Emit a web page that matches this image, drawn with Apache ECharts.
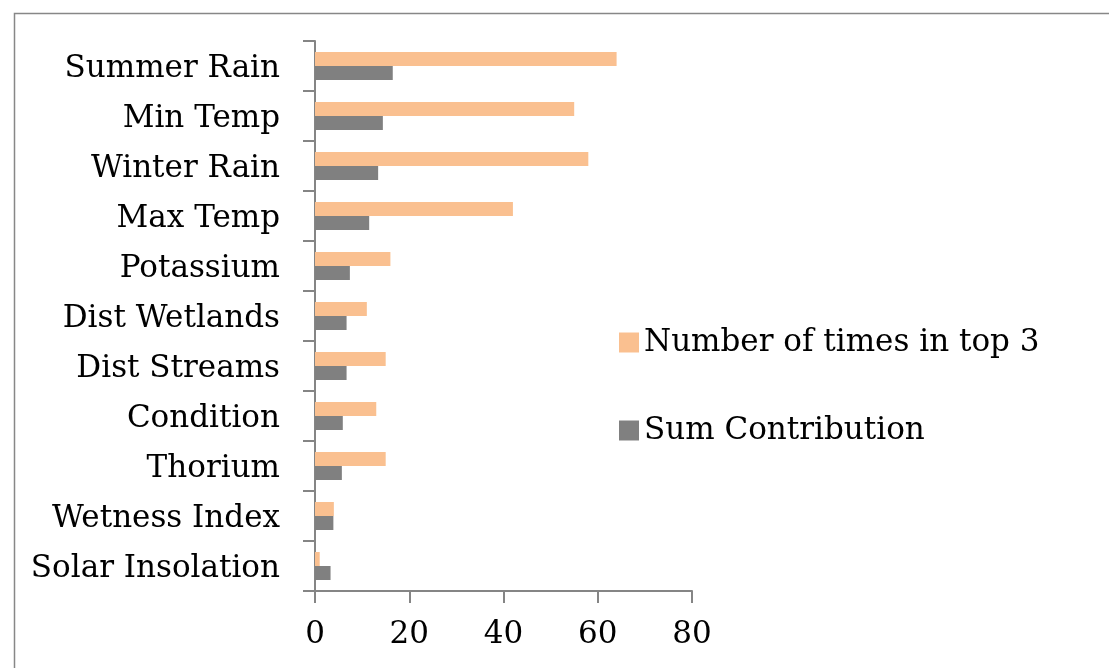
<!DOCTYPE html>
<html>
<head>
<meta charset="utf-8">
<script src="https://cdn.jsdelivr.net/npm/echarts@6/dist/echarts.min.js"></script>
<style>
html,body{margin:0;padding:0;background:#fff;}
#chart{width:1109px;height:668px;}
</style>
</head>
<body>
<div id="chart"></div>
<script>
var categories = ['Solar Insolation','Wetness Index','Thorium','Condition','Dist Streams','Dist Wetlands','Potassium','Max Temp','Winter Rain','Min Temp','Summer Rain'];
var timesInTop3 = [1, 4, 15, 13, 15, 11, 16, 42, 58, 55, 64];
var sumContribution = [3.3, 3.9, 5.7, 5.9, 6.7, 6.7, 7.4, 11.5, 13.4, 14.4, 16.5];
var xTicks = [0, 20, 40, 60, 80];
var seriesNames = ['Number of times in top 3', 'Sum Contribution'];

var FONT = 'DejaVu Serif';
var chart = echarts.init(document.getElementById('chart'), null, {renderer: 'canvas'});
chart.setOption({
  animation: false,
  backgroundColor: '#ffffff',
  graphic: [{
    type: 'rect',
    left: 12, top: 11,
    shape: {x: 0, y: 0, width: 1200, height: 800},
    style: {fill: 'none', stroke: '#878787', lineWidth: 1.5},
    silent: true
  }],
  grid: {left: 315, right: 417, top: 41, bottom: 77, containLabel: false},
  legend: {
    orient: 'vertical',
    left: 614,
    top: 322,
    itemWidth: 20,
    itemHeight: 20,
    itemGap: 57,
    icon: 'rect',
    data: seriesNames,
    textStyle: {fontFamily: FONT, fontSize: 31, color: '#000', lineHeight: 31}
  },
  xAxis: {
    type: 'value',
    min: xTicks[0],
    max: xTicks[xTicks.length - 1],
    interval: xTicks[1] - xTicks[0],
    splitLine: {show: false},
    axisLine: {show: true, lineStyle: {color: '#858585', width: 2}},
    axisTick: {show: true, length: 12, lineStyle: {color: '#858585', width: 2}},
    axisLabel: {fontFamily: FONT, fontSize: 31, color: '#000', margin: 28}
  },
  yAxis: {
    type: 'category',
    data: categories,
    axisLine: {show: true, lineStyle: {color: '#858585', width: 2}},
    axisTick: {show: true, length: 12, alignWithLabel: false, lineStyle: {color: '#858585', width: 2}},
    axisLabel: {
      margin: 35,
      formatter: function (v) { return '{c|' + v + '}'; },
      rich: {c: {fontFamily: FONT, fontSize: 31, color: '#000', padding: [6, 0, 0, 0]}}
    }
  },
  series: [
    {
      name: seriesNames[0],
      type: 'bar',
      data: timesInTop3,
      barWidth: 14,
      barGap: '0%',
      itemStyle: {color: '#FAC090'}
    },
    {
      name: seriesNames[1],
      type: 'bar',
      data: sumContribution,
      barWidth: 14,
      barGap: '0%',
      itemStyle: {color: '#808080'}
    }
  ]
});
</script>
</body>
</html>
